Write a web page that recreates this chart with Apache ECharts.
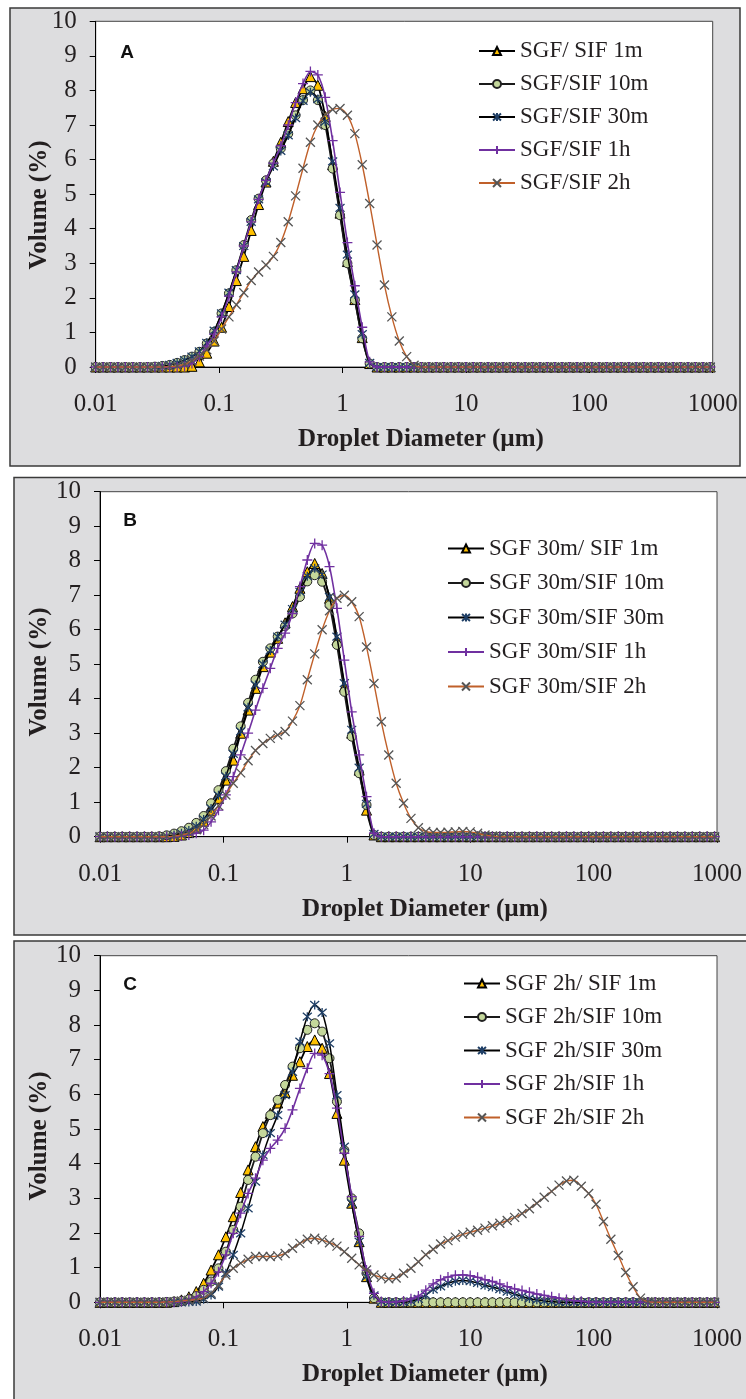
<!DOCTYPE html>
<html><head><meta charset="utf-8">
<script src="https://cdn.jsdelivr.net/npm/echarts@6/dist/echarts.min.js"></script>
<style>html,body{margin:0;padding:0;background:#fff;}#c{width:746px;height:1399px;}</style>
</head><body><div id="c"></div>
<script>
// Droplet diameter classes (µm)
const X = [0.01,0.01148,0.01318,0.01514,0.01738,0.01995,0.02291,0.0263,0.0302,0.03467,
0.03981,0.04571,0.05248,0.06026,0.06918,0.07943,0.0912,0.1047,0.1202,0.138,
0.1585,0.182,0.2089,0.2399,0.2754,0.3162,0.3631,0.4169,0.4786,0.5495,
0.631,0.7244,0.8318,0.955,1.096,1.259,1.445,1.66,1.905,2.188,
2.512,2.884,3.311,3.802,4.365,5.012,5.754,6.607,7.586,8.71,
10,11.48,13.18,15.14,17.38,19.95,22.91,26.3,30.2,34.67,
39.81,45.71,52.48,60.26,69.18,79.43,91.2,104.7,120.2,138,
158.5,182,208.9,239.9,275.4,316.2,363.1,416.9,478.6,549.5,
631,724.4,831.8,955];

const xTicks = [0.01,0.1,1,10,100,1000];
const yTicks = [0,1,2,3,4,5,6,7,8,9,10];

// Panel A
const namesA = ['SGF/ SIF 1m','SGF/SIF 10m','SGF/SIF 30m','SGF/SIF 1h','SGF/SIF 2h'];
const A_1m = [0,0,0,0,0,0,0,0,0,0,
0,0,0,0.02,0.15,0.4,0.75,1.15,1.75,2.5,
3.2,3.95,4.7,5.35,5.95,6.5,7.1,7.65,8.05,8.4,
8.15,7.25,5.85,4.45,3.05,1.95,0.85,0.1,0,0,
0,0,0,0,0,0,0,0,0,0,
0,0,0,0,0,0,0,0,0,0,
0,0,0,0,0,0,0,0,0,0,
0,0,0,0,0,0,0,0,0,0,
0,0,0,0];
const A_10m = [0,0,0,0,0,0,0,0,0.01,0.03,
0.06,0.12,0.2,0.3,0.44,0.68,1.02,1.55,2.13,2.8,
3.53,4.25,4.87,5.4,5.89,6.32,6.75,7.28,7.72,8.0,
7.72,7.0,5.74,4.39,3.0,1.94,0.83,0.1,0,0,
0,0,0,0,0,0,0,0,0,0,
0,0,0,0,0,0,0,0,0,0,
0,0,0,0,0,0,0,0,0,0,
0,0,0,0,0,0,0,0,0,0,
0,0,0,0];
const A_30m = [0,0,0,0,0,0,0,0,0.01,0.03,
0.06,0.12,0.2,0.3,0.45,0.7,1.05,1.55,2.15,2.8,
3.5,4.2,4.85,5.35,5.8,6.25,6.7,7.2,7.7,7.95,
7.75,7.1,5.95,4.6,3.25,2.1,0.95,0.12,0,0,
0,0,0,0,0,0,0,0,0,0,
0,0,0,0,0,0,0,0,0,0,
0,0,0,0,0,0,0,0,0,0,
0,0,0,0,0,0,0,0,0,0,
0,0,0,0];
const A_1h = [0,0,0,0,0,0,0,0,0,0,
0,0,0.02,0.1,0.3,0.6,0.95,1.45,2.05,2.75,
3.5,4.2,4.85,5.4,5.9,6.4,7.0,7.65,8.2,8.55,
8.45,7.8,6.55,5.05,3.6,2.35,1.15,0.15,0,0,
0,0,0,0,0,0,0,0,0,0,
0,0,0,0,0,0,0,0,0,0,
0,0,0,0,0,0,0,0,0,0,
0,0,0,0,0,0,0,0,0,0,
0,0,0,0];
const A_2h = [0,0,0,0,0,0,0,0,0,0,
0.01,0.03,0.08,0.18,0.32,0.5,0.75,1.1,1.45,1.8,
2.15,2.5,2.75,2.95,3.2,3.6,4.2,4.95,5.75,6.5,
7.0,7.3,7.45,7.48,7.28,6.75,5.85,4.73,3.53,2.37,
1.45,0.75,0.3,0.05,0,0,0,0,0,0,
0,0,0,0,0,0,0,0,0,0,
0,0,0,0,0,0,0,0,0,0,
0,0,0,0,0,0,0,0,0,0,
0,0,0,0];

// Panel B
const namesB = ['SGF 30m/ SIF 1m','SGF 30m/SIF 10m','SGF 30m/SIF 30m','SGF 30m/SIF 1h','SGF 30m/SIF 2h'];
const B_1m = [0,0,0,0,0,0,0,0,0,0,
0.01,0.05,0.12,0.25,0.45,0.75,1.11,1.64,2.22,3.0,
3.67,4.3,4.93,5.35,5.75,6.2,6.67,7.2,7.68,7.92,
7.63,6.91,5.7,4.35,3.0,1.93,0.77,0.05,0,0,
0,0,0,0,0,0,0,0,0,0,
0,0,0,0,0,0,0,0,0,0,
0,0,0,0,0,0,0,0,0,0,
0,0,0,0,0,0,0,0,0,0,
0,0,0,0];
const B_10m = [0,0,0,0,0,0,0,0,0.01,0.04,
0.09,0.16,0.26,0.4,0.6,0.97,1.35,1.9,2.55,3.2,
3.88,4.55,5.07,5.46,5.8,6.1,6.47,6.95,7.4,7.58,
7.39,6.71,5.56,4.2,2.9,1.84,0.92,0.05,0,0,
0,0,0,0,0,0,0,0,0,0,
0,0,0,0,0,0,0,0,0,0,
0,0,0,0,0,0,0,0,0,0,
0,0,0,0,0,0,0,0,0,0,
0,0,0,0];
const B_30m = [0,0,0,0,0,0,0,0,0,0.02,
0.05,0.1,0.18,0.3,0.5,0.82,1.2,1.75,2.4,3.05,
3.75,4.4,5.0,5.4,5.8,6.15,6.6,7.1,7.55,7.78,
7.6,6.95,5.8,4.45,3.1,2.0,0.95,0.08,0,0,
0,0,0,0,0,0,0,0,0,0,
0,0,0,0,0,0,0,0,0,0,
0,0,0,0,0,0,0,0,0,0,
0,0,0,0,0,0,0,0,0,0,
0,0,0,0];
const B_1h = [0,0,0,0,0,0,0,0,0,0,
0,0.02,0.05,0.1,0.19,0.43,0.77,1.21,1.74,2.37,
3.0,3.67,4.3,4.88,5.46,5.9,6.47,7.25,8.02,8.5,
8.45,7.83,6.62,5.12,3.62,2.37,1.16,0.1,0,0,
0,0,0,0,0,0,0,0,0,0,
0,0,0,0,0,0,0,0,0,0,
0,0,0,0,0,0,0,0,0,0,
0,0,0,0,0,0,0,0,0,0,
0,0,0,0];
const B_2h = [0,0,0,0,0,0,0,0,0,0,
0.02,0.05,0.1,0.2,0.35,0.6,0.9,1.21,1.55,1.85,
2.2,2.5,2.7,2.85,2.95,3.05,3.35,3.8,4.55,5.3,
6.0,6.55,6.91,7.0,6.81,6.38,5.5,4.44,3.33,2.37,
1.55,0.97,0.53,0.26,0.15,0.12,0.12,0.13,0.14,0.15,
0.14,0.1,0.05,0.02,0,0,0,0,0,0,
0,0,0,0,0,0,0,0,0,0,
0,0,0,0,0,0,0,0,0,0,
0,0,0,0];

// Panel C
const namesC = ['SGF 2h/ SIF 1m','SGF 2h/SIF 10m','SGF 2h/SIF 30m','SGF 2h/SIF 1h','SGF 2h/SIF 2h'];
const C_1m = [0,0,0,0,0,0,0,0,0,0,
0.02,0.07,0.16,0.31,0.55,0.93,1.37,1.89,2.47,3.17,
3.82,4.49,5.07,5.45,5.75,6.05,6.55,6.94,7.38,7.57,
7.33,6.6,5.45,4.1,2.86,1.75,0.74,0.12,0,0,
0,0,0,0,0,0,0,0,0,0,
0,0,0,0,0,0,0,0,0,0,
0,0,0,0,0,0,0,0,0,0,
0,0,0,0,0,0,0,0,0,0,
0,0,0,0];
const C_10m = [0,0,0,0,0,0,0,0,0,0.01,
0.02,0.04,0.09,0.18,0.36,0.6,0.98,1.46,2.09,2.76,
3.53,4.2,4.88,5.4,5.84,6.27,6.8,7.33,7.86,8.05,
7.81,7.04,5.79,4.39,3.0,1.99,0.84,0.12,0,0,
0,0,0,0,0,0,0,0,0,0,
0,0,0,0,0,0,0,0,0,0,
0,0,0,0,0,0,0,0,0,0,
0,0,0,0,0,0,0,0,0,0,
0,0,0,0];
const C_30m = [0,0,0,0,0,0,0,0,0,0,
0,0,0.01,0.02,0.09,0.21,0.45,0.84,1.37,1.99,
2.71,3.48,4.25,4.88,5.4,5.98,6.65,7.52,8.24,8.58,
8.36,7.47,5.98,4.49,2.86,1.75,0.74,0.2,0.02,0,
0,0,0.03,0.1,0.21,0.37,0.46,0.55,0.61,0.63,
0.61,0.56,0.49,0.44,0.38,0.31,0.24,0.17,0.11,0.07,
0.04,0.02,0,0,0,0,0,0,0,0,
0,0,0,0,0,0,0,0,0,0,
0,0,0,0];
const C_1h = [0,0,0,0,0,0,0,0,0,0,
0,0.02,0.07,0.16,0.31,0.55,0.88,1.37,1.99,2.57,
3.14,3.58,4.1,4.44,4.68,5.02,5.55,6.17,6.75,7.18,
7.13,6.6,5.6,4.3,3.05,1.9,0.93,0.26,0.02,0,
0.01,0.04,0.1,0.18,0.35,0.53,0.65,0.73,0.78,0.79,
0.77,0.72,0.65,0.6,0.53,0.45,0.39,0.34,0.29,0.24,
0.2,0.16,0.12,0.08,0.05,0.03,0.01,0,0,0,
0,0,0,0,0,0,0,0,0,0,
0,0,0,0];
const C_2h = [0,0,0,0,0,0,0,0,0,0.01,
0.02,0.04,0.06,0.08,0.12,0.26,0.5,0.79,0.98,1.13,
1.24,1.32,1.32,1.32,1.34,1.41,1.56,1.7,1.82,1.85,
1.8,1.72,1.62,1.46,1.27,1.08,0.93,0.79,0.72,0.68,
0.7,0.84,0.98,1.17,1.37,1.53,1.68,1.78,1.88,1.96,
2.02,2.08,2.14,2.21,2.28,2.36,2.45,2.56,2.7,2.86,
3.03,3.2,3.38,3.5,3.52,3.35,3.14,2.83,2.33,1.82,
1.35,0.86,0.45,0.12,0.02,0,0,0,0,0,
0,0,0,0];

const SERIF = '"Liberation Serif","Times New Roman",serif';
const TXT = '#231F20';

const STYLES = [
  {symbol:'triangle', size:10, fill:'#FFC000', stroke:'#000', bw:1, line:'#000', lw:1.8},
  {symbol:'circle', size:9, fill:'#C4D79B', stroke:'#222', bw:1, line:'#1a1a1a', lw:1.8},
  {symbol:'path://M5,0L5,10M0.7,0.7L9.3,9.3M9.3,0.7L0.7,9.3', size:9, fill:'#1F3F66', stroke:'#1F3F66', bw:1.3, line:'#000', lw:1.5},
  {symbol:'path://M5,0L5,10M0,5L10,5', size:10, fill:'#7030A0', stroke:'#7030A0', bw:1.3, line:'#7030A0', lw:1.6},
  {symbol:'path://M0,0L10,10M10,0L0,10', size:9, fill:'#555555', stroke:'#555555', bw:1.3, line:'#C0602A', lw:1.4}
];

const panels = [
  {names:namesA, data:[A_1m,A_10m,A_30m,A_1h,A_2h], grid:{left:95.7, top:21.3, width:617, height:345.7},
   legend:{left:478, top:39.5, gap:10}, label:'A', labelPos:[127,53], xTitleY:440, yTitleY:205, xTitleX:421},
  {names:namesB, data:[B_1m,B_10m,B_30m,B_1h,B_2h], grid:{left:100, top:491.7, width:617, height:345},
   legend:{left:447, top:537, gap:11.5}, label:'B', labelPos:[130,521], xTitleY:910, yTitleY:672, xTitleX:425},
  {names:namesC, data:[C_1m,C_10m,C_30m,C_1h,C_2h], grid:{left:100, top:955.7, width:617, height:346.6},
   legend:{left:463, top:972, gap:10.5}, label:'C', labelPos:[130,985], xTitleY:1375, yTitleY:1136, xTitleX:425}
];

const grids = [], xAxes = [], yAxes = [], series = [], legends = [], graphics = [];

graphics.push({type:'rect', z:-10, silent:true, shape:{x:10, y:8, width:730, height:458}, style:{fill:'#DDDDDF', stroke:'#3a3a3a', lineWidth:1.5}});
graphics.push({type:'rect', z:-10, silent:true, shape:{x:14, y:477.5, width:760, height:457.5}, style:{fill:'#DDDDDF', stroke:'#3a3a3a', lineWidth:1.5}});
graphics.push({type:'rect', z:-10, silent:true, shape:{x:14, y:941, width:760, height:480}, style:{fill:'#DDDDDF', stroke:'#3a3a3a', lineWidth:1.5}});

panels.forEach((p, pi) => {
  grids.push(Object.assign({show:true, backgroundColor:'#fff', borderColor:'#444', borderWidth:1}, p.grid));
  xAxes.push({
    type:'log', logBase:10, gridIndex:pi, min:xTicks[0], max:xTicks[xTicks.length-1],
    axisLine:{show:true, onZero:false, lineStyle:{color:'#000', width:1}},
    axisTick:{show:true, inside:false, length:6, lineStyle:{color:'#000'}},
    axisLabel:{margin:25, fontFamily:SERIF, fontSize:25, color:TXT,
      formatter:v => String(parseFloat(Number(v).toPrecision(4)))},
    splitLine:{show:false}, minorTick:{show:false}, minorSplitLine:{show:false}
  });
  yAxes.push({
    type:'value', gridIndex:pi, min:yTicks[0], max:yTicks[yTicks.length-1], interval:1,
    axisLine:{show:true, lineStyle:{color:'#000', width:1}},
    axisTick:{show:true, inside:false, length:6, lineStyle:{color:'#000'}},
    axisLabel:{margin:19, fontFamily:SERIF, fontSize:25, color:TXT},
    splitLine:{show:false}
  });
  p.names.forEach((nm, si) => {
    const st = STYLES[si];
    series.push({
      type:'line', name:nm, xAxisIndex:pi, yAxisIndex:pi,
      data: X.map((x, i) => [x, p.data[si][i]]),
      smooth:0.25, symbol:st.symbol, symbolSize:st.size, showSymbol:true, showAllSymbol:true,
      lineStyle:{color:st.line, width:st.lw},
      itemStyle:{color:st.fill, borderColor:st.stroke, borderWidth:st.bw},
      emphasis:{disabled:true}, z:2+si, clip:false
    });
  });
  legends.push({
    data:p.names, orient:'vertical', left:p.legend.left, top:p.legend.top,
    itemWidth:36, itemHeight:10, itemGap:p.legend.gap, padding:0, selectedMode:false,
    textStyle:{fontFamily:SERIF, fontSize:23, color:TXT, lineHeight:23}
  });
  graphics.push({type:'text', x:p.labelPos[0], y:p.labelPos[1], silent:true,
    style:{text:p.label, font:'bold 19px "Liberation Sans",Arial,sans-serif', fill:'#111', align:'center', verticalAlign:'middle'}});
  graphics.push({type:'text', x:p.xTitleX, y:p.xTitleY, silent:true,
    style:{text:'Droplet Diameter (µm)', font:'bold 25px ' + SERIF, fill:TXT, align:'center', verticalAlign:'middle'}});
  graphics.push({type:'text', x:40, y:p.yTitleY, rotation:Math.PI/2, silent:true,
    style:{text:'Volume (%)', font:'bold 25px ' + SERIF, fill:TXT, align:'center', verticalAlign:'middle'}});
});

const chart = echarts.init(document.getElementById('c'), null, {renderer:'canvas'});
chart.setOption({
  animation:false, backgroundColor:'#fff',
  grid:grids, xAxis:xAxes, yAxis:yAxes, series:series, legend:legends, graphic:graphics
});
</script>
</body></html>
